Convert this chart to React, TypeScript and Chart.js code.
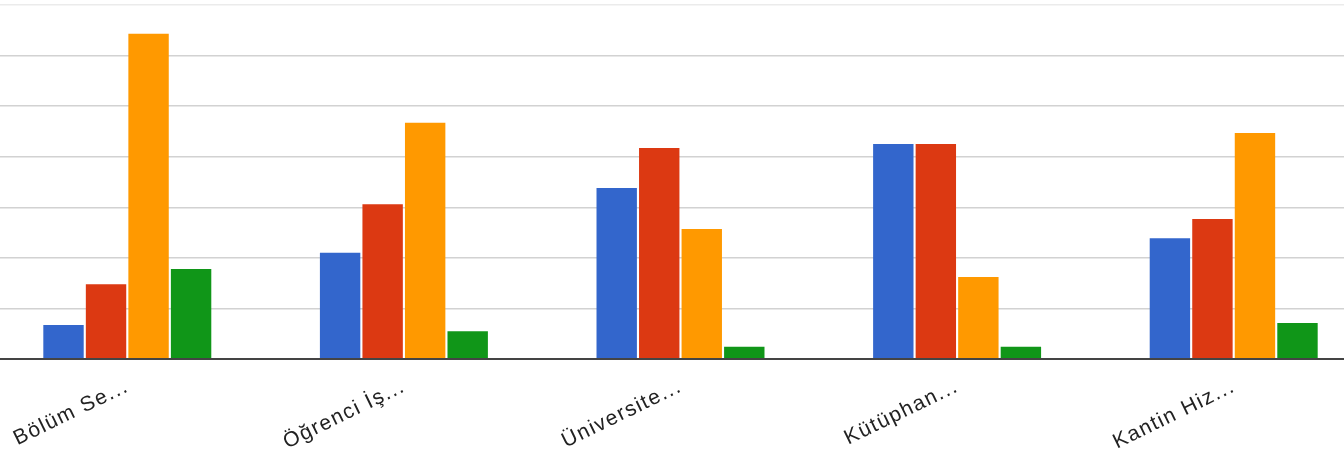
import { useEffect, useRef } from "react";
import { Chart, registerables } from "chart.js";

Chart.register(...registerables);

const categories = ["Bölüm Se...", "Öğrenci İş...", "Üniversite...", "Kütüphan...", "Kantin Hiz..."];
const seriesBlue = [6.7, 21.0, 33.8, 42.5, 23.9];
const seriesRed = [14.8, 30.6, 41.7, 42.5, 27.7];
const seriesOrange = [64.3, 46.7, 25.7, 16.2, 44.7];
const seriesGreen = [17.8, 5.5, 2.4, 2.4, 7.1];
const seriesColors = ["#3366cc", "#dc3912", "#ff9900", "#109618"];
const yMin = 0;
const yMax = 70;
const yStep = 10;

const letterSpacingPlugin = {
  id: "letterSpacing",
  beforeInit(chart: any) {
    (chart.ctx as any).letterSpacing = "1.5px";
  },
  beforeDraw(chart: any) {
    (chart.ctx as any).letterSpacing = "1.5px";
  },
};

export default function App() {
  const ref = useRef<HTMLCanvasElement>(null);
  useEffect(() => {
    document.body.style.margin = "0";
    const values = [seriesBlue, seriesRed, seriesOrange, seriesGreen];
    const chart = new Chart(ref.current!, {
      type: "bar",
      data: {
        labels: categories,
        datasets: values.map((v, i) => ({
          data: v,
          backgroundColor: seriesColors[i],
          borderWidth: 0,
          barPercentage: 0.95,
          categoryPercentage: 0.615,
        })),
      },
      plugins: [letterSpacingPlugin],
      options: {
        responsive: false,
        animation: false,
        layout: { padding: { top: 5, left: 0, right: 0, bottom: 0 } },
        plugins: { legend: { display: false }, tooltip: { enabled: false } },
        scales: {
          x: {
            grid: { display: false, drawTicks: false },
            border: { display: true, color: "#444", width: 2, z: 1 },
            ticks: {
              minRotation: 26,
              maxRotation: 26,
              padding: 15,
              color: "#222",
              font: { family: "Liberation Sans", size: 21 },
            },
            afterFit: (s: any) => {
              s.height = 96;
            },
          },
          y: {
            min: yMin,
            max: yMax,
            ticks: { display: false, stepSize: yStep },
            grid: {
              drawTicks: false,
              color: (ctx: any) =>
                ctx.tick && ctx.tick.value === yMin
                  ? "rgba(0,0,0,0)"
                  : ctx.tick && ctx.tick.value === yMax
                  ? "#ebebeb"
                  : "#d2d2d2",
              lineWidth: 1.5,
            },
            border: { display: false },
          },
        },
      },
    });
    return () => chart.destroy();
  }, []);
  return (
    <div style={{ position: "relative", width: 1344, height: 455, overflow: "hidden", background: "#fff" }}>
      <canvas
        ref={ref}
        width={1383}
        height={455}
        style={{ position: "absolute", left: -11, top: 0, width: 1383, height: 455 }}
      />
    </div>
  );
}
